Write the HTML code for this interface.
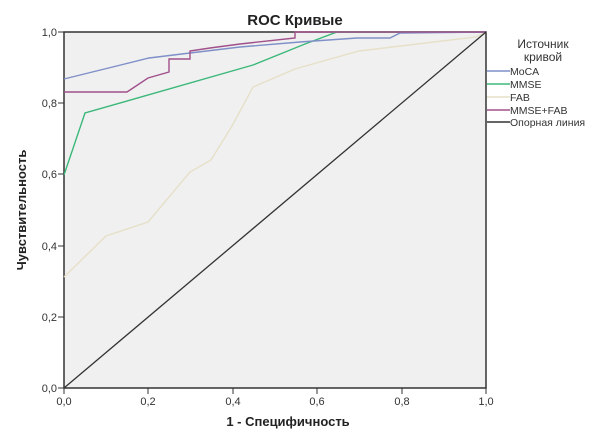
<!DOCTYPE html>
<html><head><meta charset="utf-8"><style>
body{margin:0;background:#fff;}
svg text{font-family:"Liberation Sans",sans-serif;}
</style></head><body>
<svg width="600" height="441" xmlns="http://www.w3.org/2000/svg">
<rect width="600" height="441" fill="#fff"/>
<text x="295" y="25" text-anchor="middle" font-size="15" font-weight="bold" fill="#222">ROC Кривые</text>
<rect x="64" y="32" width="422" height="356" fill="#f0f0f0" stroke="#333" stroke-width="1.5"/>
<g fill="none" stroke-width="1.4">
<polyline stroke="#e6e0c8" points="64,277 106,236 148,222 190,172 211,160 232,126 253,87 295,69 359,51 476,37 486,32"/>
<polyline stroke="#3cb87a" points="64,175 85,113 253,65 305,44 337,32 486,32"/>
<polyline stroke="#7f8fc8" points="64,79 149,58 190,53 240,47 300,42 357,38 390,38 400,33 486,32"/>
<polyline stroke="#a0508a" points="64,92 127,92 148,78 169,72 169,59 190,59 190,51 210,48 240,44 295,38 295,32 486,32"/>
<line x1="64" y1="388" x2="486" y2="32" stroke="#333" stroke-width="1.3"/>
</g>
<g stroke="#333" stroke-width="1">
<line x1="58" y1="32" x2="64" y2="32"/><line x1="58" y1="103" x2="64" y2="103"/><line x1="58" y1="174" x2="64" y2="174"/><line x1="58" y1="246" x2="64" y2="246"/><line x1="58" y1="317" x2="64" y2="317"/><line x1="58" y1="388" x2="64" y2="388"/>
<line x1="64" y1="388" x2="64" y2="394"/><line x1="148" y1="388" x2="148" y2="394"/><line x1="233" y1="388" x2="233" y2="394"/><line x1="317" y1="388" x2="317" y2="394"/><line x1="402" y1="388" x2="402" y2="394"/><line x1="486" y1="388" x2="486" y2="394"/>
</g>
<g font-size="11" fill="#333" text-anchor="end">
<text x="57" y="36">1,0</text><text x="57" y="107">0,8</text><text x="57" y="178">0,6</text><text x="57" y="250">0,4</text><text x="57" y="321">0,2</text><text x="57" y="392">0,0</text>
</g>
<g font-size="11" fill="#333" text-anchor="middle">
<text x="64" y="405">0,0</text><text x="148" y="405">0,2</text><text x="233" y="405">0,4</text><text x="317" y="405">0,6</text><text x="402" y="405">0,8</text><text x="486" y="405">1,0</text>
</g>
<text x="288" y="426" text-anchor="middle" font-size="13" font-weight="bold" fill="#222">1 - Специфичность</text>
<text transform="translate(26,210) rotate(-90)" text-anchor="middle" font-size="13" font-weight="bold" fill="#222">Чувствительность</text>
<g font-size="12" fill="#333" text-anchor="middle"><text x="543" y="48">Источник</text><text x="543" y="61">кривой</text></g>
<g stroke-width="1.4">
<line x1="487" y1="71" x2="510" y2="71" stroke="#7f8fc8"/>
<line x1="487" y1="84" x2="510" y2="84" stroke="#3cb87a"/>
<line x1="487" y1="97" x2="510" y2="97" stroke="#e6e0c8"/>
<line x1="487" y1="110" x2="510" y2="110" stroke="#a0508a"/>
<line x1="487" y1="122" x2="510" y2="122" stroke="#333"/>
</g>
<g font-size="10.5" fill="#333">
<text x="510" y="75">MoCA</text><text x="510" y="88">MMSE</text><text x="510" y="101">FAB</text><text x="510" y="114">MMSE+FAB</text><text x="510" y="126">Опорная линия</text>
</g>
</svg>
</body></html>
